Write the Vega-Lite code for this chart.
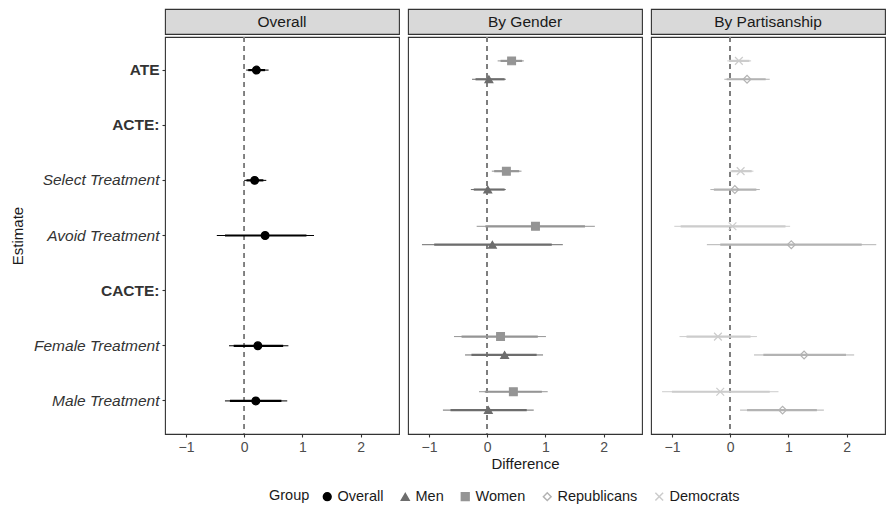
{
  "$schema": "https://vega.github.io/schema/vega-lite/v6.json",
  "padding": {"left": 9, "top": 8, "right": 0, "bottom": 0},
  "background": "white",
  "datasets": {
    "est": [
      {"Panel": "Overall", "Estimate": "ATE", "Group": "Overall", "est": 0.21, "lo90": 0.07, "hi90": 0.36, "lo95": 0.035, "hi95": 0.42},
      {"Panel": "Overall", "Estimate": "Select Treatment", "Group": "Overall", "est": 0.18, "lo90": 0.04, "hi90": 0.33, "lo95": 0.0, "hi95": 0.38},
      {"Panel": "Overall", "Estimate": "Avoid Treatment", "Group": "Overall", "est": 0.36, "lo90": -0.33, "hi90": 1.07, "lo95": -0.47, "hi95": 1.2},
      {"Panel": "Overall", "Estimate": "Female Treatment", "Group": "Overall", "est": 0.235, "lo90": -0.18, "hi90": 0.67, "lo95": -0.26, "hi95": 0.76},
      {"Panel": "Overall", "Estimate": "Male Treatment", "Group": "Overall", "est": 0.2, "lo90": -0.245, "hi90": 0.64, "lo95": -0.33, "hi95": 0.74},
      {"Panel": "By Gender", "Estimate": "ATE", "Group": "Women", "est": 0.42, "lo90": 0.23, "hi90": 0.6, "lo95": 0.18, "hi95": 0.63},
      {"Panel": "By Gender", "Estimate": "Select Treatment", "Group": "Women", "est": 0.33, "lo90": 0.12, "hi90": 0.55, "lo95": 0.08, "hi95": 0.59},
      {"Panel": "By Gender", "Estimate": "Avoid Treatment", "Group": "Women", "est": 0.83, "lo90": -0.03, "hi90": 1.68, "lo95": -0.18, "hi95": 1.85},
      {"Panel": "By Gender", "Estimate": "Female Treatment", "Group": "Women", "est": 0.23, "lo90": -0.44, "hi90": 0.87, "lo95": -0.57, "hi95": 1.01},
      {"Panel": "By Gender", "Estimate": "Male Treatment", "Group": "Women", "est": 0.45, "lo90": -0.04, "hi90": 0.94, "lo95": -0.14, "hi95": 1.04},
      {"Panel": "By Gender", "Estimate": "ATE", "Group": "Men", "est": 0.03, "lo90": -0.2, "hi90": 0.3, "lo95": -0.26, "hi95": 0.32},
      {"Panel": "By Gender", "Estimate": "Select Treatment", "Group": "Men", "est": 0.01, "lo90": -0.23, "hi90": 0.3, "lo95": -0.28, "hi95": 0.32},
      {"Panel": "By Gender", "Estimate": "Avoid Treatment", "Group": "Men", "est": 0.09, "lo90": -0.91, "hi90": 1.11, "lo95": -1.12, "hi95": 1.3},
      {"Panel": "By Gender", "Estimate": "Female Treatment", "Group": "Men", "est": 0.3, "lo90": -0.27, "hi90": 0.85, "lo95": -0.38, "hi95": 0.96},
      {"Panel": "By Gender", "Estimate": "Male Treatment", "Group": "Men", "est": 0.02, "lo90": -0.63, "hi90": 0.68, "lo95": -0.76, "hi95": 0.8},
      {"Panel": "By Partisanship", "Estimate": "ATE", "Group": "Democrats", "est": 0.15, "lo90": -0.02, "hi90": 0.33, "lo95": -0.05, "hi95": 0.36},
      {"Panel": "By Partisanship", "Estimate": "Select Treatment", "Group": "Democrats", "est": 0.18, "lo90": 0.02, "hi90": 0.37, "lo95": -0.01, "hi95": 0.4},
      {"Panel": "By Partisanship", "Estimate": "Avoid Treatment", "Group": "Democrats", "est": 0.04, "lo90": -0.85, "hi90": 0.95, "lo95": -0.96, "hi95": 1.03},
      {"Panel": "By Partisanship", "Estimate": "Female Treatment", "Group": "Democrats", "est": -0.21, "lo90": -0.75, "hi90": 0.35, "lo95": -0.87, "hi95": 0.46},
      {"Panel": "By Partisanship", "Estimate": "Male Treatment", "Group": "Democrats", "est": -0.17, "lo90": -1.0, "hi90": 0.68, "lo95": -1.17, "hi95": 0.83},
      {"Panel": "By Partisanship", "Estimate": "ATE", "Group": "Republicans", "est": 0.29, "lo90": -0.06, "hi90": 0.61, "lo95": -0.1, "hi95": 0.68},
      {"Panel": "By Partisanship", "Estimate": "Select Treatment", "Group": "Republicans", "est": 0.08, "lo90": -0.28, "hi90": 0.45, "lo95": -0.34, "hi95": 0.51},
      {"Panel": "By Partisanship", "Estimate": "Avoid Treatment", "Group": "Republicans", "est": 1.05, "lo90": -0.17, "hi90": 2.26, "lo95": -0.4, "hi95": 2.51},
      {"Panel": "By Partisanship", "Estimate": "Female Treatment", "Group": "Republicans", "est": 1.27, "lo90": 0.57, "hi90": 1.99, "lo95": 0.41, "hi95": 2.13},
      {"Panel": "By Partisanship", "Estimate": "Male Treatment", "Group": "Republicans", "est": 0.9, "lo90": 0.29, "hi90": 1.49, "lo95": 0.17, "hi95": 1.61}
    ]
  },
  "hconcat": [
    {
      "spacing": 0,
      "vconcat": [
        {
          "data": {"values": [{"Panel": "Overall"}]},
          "width": 234, "height": 25,
          "view": {"fill": "#D9D9D9", "stroke": "#333333", "strokeWidth": 1.1},
          "mark": {"type": "text", "fontSize": 15.5, "font": "Liberation Sans", "color": "#1A1A1A"},
          "encoding": {"text": {"field": "Panel"}}
        },
        {
          "data": {"name": "est"},
          "transform": [{"filter": "datum.Panel === 'Overall'"}],
          "width": 234, "height": 397,
          "encoding": {
            "y": {"field": "Estimate", "type": "nominal",
              "scale": {"type": "band", "domain": ["ATE", "ACTE:", "Select Treatment", "Avoid Treatment", "CACTE:", "Female Treatment", "Male Treatment"], "paddingInner": 0, "paddingOuter": 0.1},
              "axis": {"title": "Estimate", "titlePadding": 8, "titleFontSize": 15, "labelFontSize": 15.5, "labelColor": "#333333",
                "labelFontWeight": {"condition": {"test": "indexof(['ATE','ACTE:','CACTE:'], datum.value) >= 0", "value": "bold"}, "value": "normal"},
                "labelFontStyle": {"condition": {"test": "indexof(['ATE','ACTE:','CACTE:'], datum.value) >= 0", "value": "normal"}, "value": "italic"}}},
            "yOffset": {"field": "Group", "type": "nominal", "scale": {"type": "point", "domain": ["Overall"], "padding": 1.62}}
          },
          "layer": [
            {"mark": {"type": "rule", "color": "#7F7F7F", "strokeDash": [5, 4], "strokeWidth": 1.1},
             "encoding": {"x": {"datum": 0, "type": "quantitative"}, "y": null, "yOffset": null}},
            {"mark": {"type": "rule", "strokeWidth": 1},
             "encoding": {
               "x": {"field": "lo95", "type": "quantitative", "scale": {"domain": [-1.36, 2.66], "nice": false, "zero": false},
                 "axis": {"title": null, "values": [-1, 0, 1, 2], "format": "~g"}},
               "x2": {"field": "hi95"},
               "color": {"field": "Group", "type": "nominal", "title": "Group", "scale": {"domain": ["Overall", "Men", "Women", "Republicans", "Democrats"], "range": ["#000000", "#6D6D6D", "#959595", "#B3B3B3", "#CCCCCC"]}}}},
            {"mark": {"type": "rule", "strokeWidth": 2.2},
             "encoding": {"x": {"field": "lo90", "type": "quantitative"}, "x2": {"field": "hi90"},
               "color": {"field": "Group", "type": "nominal", "title": "Group"}}},
            {"mark": {"type": "point", "filled": false, "size": 60, "strokeWidth": 1.2, "opacity": 1},
             "encoding": {"x": {"field": "est", "type": "quantitative"},
               "color": {"field": "Group", "type": "nominal", "title": "Group"},
               "fill": {"field": "Group", "type": "nominal", "title": "Group", "scale": {"domain": ["Overall", "Men", "Women", "Republicans", "Democrats"], "range": ["#000000", "#6D6D6D", "#959595", "transparent", "transparent"]}},
               "shape": {"field": "Group", "type": "nominal", "title": "Group", "scale": {"domain": ["Overall", "Men", "Women", "Republicans", "Democrats"], "range": ["circle", "triangle-up", "square", "diamond", "M-1,-1L1,1M-1,1L1,-1"]}}}}
          ]
        }
      ]
    },
    {
      "spacing": 0,
      "vconcat": [
        {
          "data": {"values": [{"Panel": "By Gender"}]},
          "width": 234, "height": 25,
          "view": {"fill": "#D9D9D9", "stroke": "#333333", "strokeWidth": 1.1},
          "mark": {"type": "text", "fontSize": 15.5, "font": "Liberation Sans", "color": "#1A1A1A"},
          "encoding": {"text": {"field": "Panel"}}
        },
        {
          "data": {"name": "est"},
          "transform": [{"filter": "datum.Panel === 'By Gender'"}],
          "width": 234, "height": 397,
          "encoding": {
            "y": {"field": "Estimate", "type": "nominal",
              "scale": {"type": "band", "domain": ["ATE", "ACTE:", "Select Treatment", "Avoid Treatment", "CACTE:", "Female Treatment", "Male Treatment"], "paddingInner": 0, "paddingOuter": 0.1},
              "axis": {"title": null, "labels": false, "ticks": false}},
            "yOffset": {"field": "Group", "type": "nominal", "scale": {"type": "point", "domain": ["Women", "Men"], "padding": 1.62}}
          },
          "layer": [
            {"mark": {"type": "rule", "color": "#7F7F7F", "strokeDash": [5, 4], "strokeWidth": 1.1},
             "encoding": {"x": {"datum": 0, "type": "quantitative"}, "y": null, "yOffset": null}},
            {"mark": {"type": "rule", "strokeWidth": 1},
             "encoding": {
               "x": {"field": "lo95", "type": "quantitative", "scale": {"domain": [-1.36, 2.66], "nice": false, "zero": false},
                 "axis": {"title": "Difference", "titlePadding": 2, "values": [-1, 0, 1, 2], "format": "~g"}},
               "x2": {"field": "hi95"},
               "color": {"field": "Group", "type": "nominal", "title": "Group", "scale": {"domain": ["Overall", "Men", "Women", "Republicans", "Democrats"], "range": ["#000000", "#6D6D6D", "#959595", "#B3B3B3", "#CCCCCC"]}}}},
            {"mark": {"type": "rule", "strokeWidth": 2.2},
             "encoding": {"x": {"field": "lo90", "type": "quantitative"}, "x2": {"field": "hi90"},
               "color": {"field": "Group", "type": "nominal", "title": "Group"}}},
            {"mark": {"type": "point", "filled": false, "size": 60, "strokeWidth": 1.2, "opacity": 1},
             "encoding": {"x": {"field": "est", "type": "quantitative"},
               "color": {"field": "Group", "type": "nominal", "title": "Group"},
               "fill": {"field": "Group", "type": "nominal", "title": "Group", "scale": {"domain": ["Overall", "Men", "Women", "Republicans", "Democrats"], "range": ["#000000", "#6D6D6D", "#959595", "transparent", "transparent"]}},
               "shape": {"field": "Group", "type": "nominal", "title": "Group", "scale": {"domain": ["Overall", "Men", "Women", "Republicans", "Democrats"], "range": ["circle", "triangle-up", "square", "diamond", "M-1,-1L1,1M-1,1L1,-1"]}}}}
          ]
        }
      ]
    },
    {
      "spacing": 0,
      "vconcat": [
        {
          "data": {"values": [{"Panel": "By Partisanship"}]},
          "width": 234, "height": 25,
          "view": {"fill": "#D9D9D9", "stroke": "#333333", "strokeWidth": 1.1},
          "mark": {"type": "text", "fontSize": 15.5, "font": "Liberation Sans", "color": "#1A1A1A"},
          "encoding": {"text": {"field": "Panel"}}
        },
        {
          "data": {"name": "est"},
          "transform": [{"filter": "datum.Panel === 'By Partisanship'"}],
          "width": 234, "height": 397,
          "encoding": {
            "y": {"field": "Estimate", "type": "nominal",
              "scale": {"type": "band", "domain": ["ATE", "ACTE:", "Select Treatment", "Avoid Treatment", "CACTE:", "Female Treatment", "Male Treatment"], "paddingInner": 0, "paddingOuter": 0.1},
              "axis": {"title": null, "labels": false, "ticks": false}},
            "yOffset": {"field": "Group", "type": "nominal", "scale": {"type": "point", "domain": ["Democrats", "Republicans"], "padding": 1.62}}
          },
          "layer": [
            {"mark": {"type": "rule", "color": "#7F7F7F", "strokeDash": [5, 4], "strokeWidth": 1.1},
             "encoding": {"x": {"datum": 0, "type": "quantitative"}, "y": null, "yOffset": null}},
            {"mark": {"type": "rule", "strokeWidth": 1},
             "encoding": {
               "x": {"field": "lo95", "type": "quantitative", "scale": {"domain": [-1.36, 2.66], "nice": false, "zero": false},
                 "axis": {"title": null, "values": [-1, 0, 1, 2], "format": "~g"}},
               "x2": {"field": "hi95"},
               "color": {"field": "Group", "type": "nominal", "title": "Group", "scale": {"domain": ["Overall", "Men", "Women", "Republicans", "Democrats"], "range": ["#000000", "#6D6D6D", "#959595", "#B3B3B3", "#CCCCCC"]}}}},
            {"mark": {"type": "rule", "strokeWidth": 2.2},
             "encoding": {"x": {"field": "lo90", "type": "quantitative"}, "x2": {"field": "hi90"},
               "color": {"field": "Group", "type": "nominal", "title": "Group"}}},
            {"mark": {"type": "point", "filled": false, "size": 60, "strokeWidth": 1.2, "opacity": 1},
             "encoding": {"x": {"field": "est", "type": "quantitative"},
               "color": {"field": "Group", "type": "nominal", "title": "Group"},
               "fill": {"field": "Group", "type": "nominal", "title": "Group", "scale": {"domain": ["Overall", "Men", "Women", "Republicans", "Democrats"], "range": ["#000000", "#6D6D6D", "#959595", "transparent", "transparent"]}},
               "shape": {"field": "Group", "type": "nominal", "title": "Group", "scale": {"domain": ["Overall", "Men", "Women", "Republicans", "Democrats"], "range": ["circle", "triangle-up", "square", "diamond", "M-1,-1L1,1M-1,1L1,-1"]}}}}
          ]
        }
      ]
    }
  ],
  "spacing": 7,
  "resolve": {"scale": {"yOffset": "independent"}},
  "config": {
    "font": "Liberation Sans",
    "view": {"stroke": "#333333", "strokeWidth": 1.1},
    "axis": {"gridColor": "#EBEBEB", "gridWidth": 1.2, "domain": false, "tickColor": "#333333", "tickSize": 3, "tickWidth": 1.1,
      "labelColor": "#4D4D4D", "labelFontSize": 14, "labelFont": "Liberation Sans", "labelPadding": 3,
      "titleFont": "Liberation Sans", "titleFontSize": 15, "titleFontWeight": "normal", "titleColor": "#1A1A1A", "titlePadding": 4},
    "legend": {"orient": "none", "legendX": 104, "legendY": 480, "direction": "horizontal", "titleOrient": "left", "titleFontSize": 14.5, "titleFontWeight": "normal", "titleColor": "#1A1A1A", "titlePadding": 10, "labelFontSize": 14.5, "labelColor": "#1A1A1A", "symbolSize": 60, "columnPadding": 14, "labelOffset": 3}
  }
}
